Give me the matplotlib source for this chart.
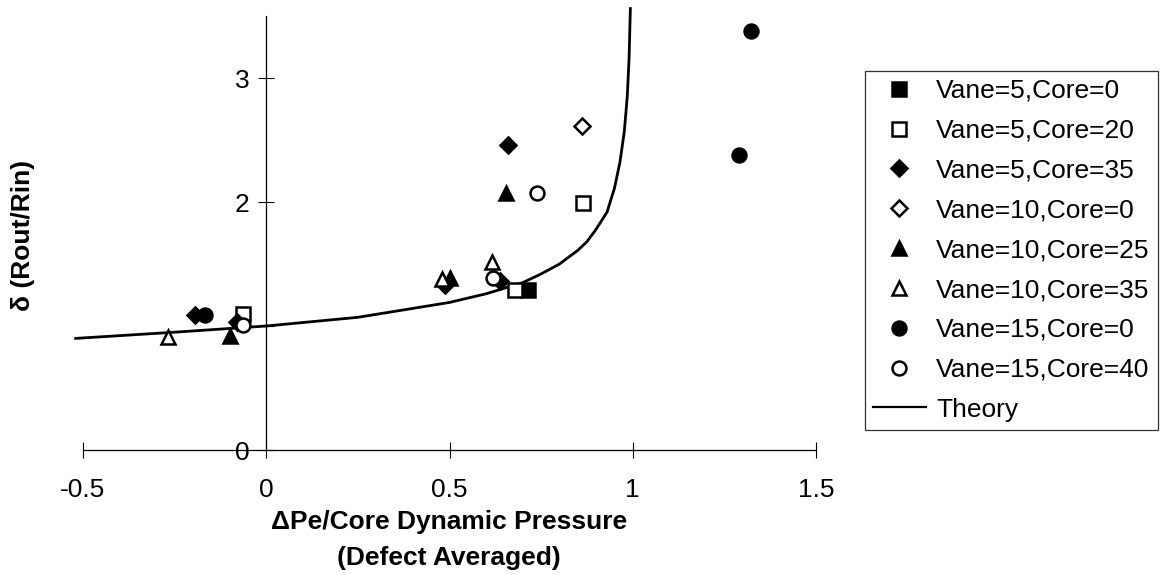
import matplotlib
matplotlib.use("Agg")
import matplotlib.pyplot as plt

plt.rcParams['font.family'] = ['Liberation Sans', 'DejaVu Sans']
plt.rcParams['font.size'] = 19

# measured points, one list pair per (vane, core) setting
v5c0_x = [0.715]
v5c0_y = [1.29]
v5c20_x = [0.679, 0.863, -0.063]
v5c20_y = [1.29, 1.99, 1.10]
v5c35_x = [0.659, 0.488, 0.638, -0.194, -0.079]
v5c35_y = [2.46, 1.33, 1.36, 1.09, 1.03]
v10c0_x = [0.861]
v10c0_y = [2.61]
v10c25_x = [0.653, 0.502, -0.100]
v10c25_y = [2.07, 1.39, 0.92]
v10c35_x = [0.616, 0.479, -0.268]
v10c35_y = [1.52, 1.38, 0.914]
v15c0_x = [1.322, 1.291, -0.166]
v15c0_y = [3.38, 2.38, 1.09]
v15c40_x = [0.739, 0.619, -0.063]
v15c40_y = [2.07, 1.39, 1.01]

# theory curve
theory_x = [-0.52, -0.25, 0.0, 0.25, 0.5, 0.6, 0.7, 0.75, 0.8, 0.85, 0.875,
            0.9, 0.93, 0.95, 0.965, 0.977, 0.985, 0.99, 0.9935]
theory_y = [0.90, 0.95, 1.0, 1.07, 1.19, 1.26, 1.35, 1.42, 1.50, 1.61, 1.68,
            1.78, 1.92, 2.11, 2.32, 2.57, 2.85, 3.16, 3.56]

fig = plt.figure(figsize=(11.61, 5.75), dpi=100)
ax = fig.add_axes([83 / 1161, 125 / 575, 733 / 1161, 434 / 575])

ax.plot(theory_x, theory_y, '-', color='black', lw=2.0, clip_on=False, zorder=2)

ms = 10
mew = 1.8
series = [
    (v5c0_x, v5c0_y, 's', 'black', 'Vane=5,Core=0'),
    (v5c20_x, v5c20_y, 's', 'white', 'Vane=5,Core=20'),
    (v5c35_x, v5c35_y, 'D', 'black', 'Vane=5,Core=35'),
    (v10c0_x, v10c0_y, 'D', 'white', 'Vane=10,Core=0'),
    (v10c25_x, v10c25_y, '^', 'black', 'Vane=10,Core=25'),
    (v10c35_x, v10c35_y, '^', 'white', 'Vane=10,Core=35'),
    (v15c0_x, v15c0_y, 'o', 'black', 'Vane=15,Core=0'),
    (v15c40_x, v15c40_y, 'o', 'white', 'Vane=15,Core=40'),
]
handles = []
for xs, ys, mk, fc, lab in series:
    size = ms * 0.8 if mk == 'D' else ms
    h, = ax.plot(xs, ys, mk, ms=size, mfc=fc, mec='black', mew=mew,
                 linestyle='none', label=lab, zorder=3)
    handles.append(h)
line_h, = ax.plot([], [], '-', color='black', lw=1.6, label='Theory')
handles.append(line_h)

ax.set_xlim(-0.5, 1.5)
ax.set_ylim(0, 3.5)

# axes cross at the origin
for s in ['top', 'right']:
    ax.spines[s].set_visible(False)
ax.spines['left'].set_position(('data', 0))
ax.spines['bottom'].set_position(('data', 0))
ax.spines['left'].set_linewidth(0.9)
ax.spines['bottom'].set_linewidth(0.9)

ax.set_xticks([-0.5, 0, 0.5, 1, 1.5])
ax.set_xticklabels(['-0.5', '0', '0.5', '1', '1.5'])
ax.set_yticks([0, 1, 2, 3])
ax.set_yticklabels(['0', '', '2', '3'])
ax.tick_params(axis='both', direction='inout', length=12, width=0.8, labelsize=19)
ax.tick_params(axis='x', pad=14)
ax.tick_params(axis='y', pad=6)

fig.text(449 / 1161, 1 - 522 / 575, 'ΔPe/Core Dynamic Pressure',
         ha='center', va='center', fontsize=19, fontweight='bold')
fig.text(449 / 1161, 1 - 558 / 575, '(Defect Averaged)',
         ha='center', va='center', fontsize=19, fontweight='bold')
fig.text(23 / 1161, 1 - 235 / 575, 'δ (Rout/Rin)', rotation=90,
         ha='center', va='center', fontsize=19, fontweight='bold')

leg = fig.legend(handles=handles, loc='upper left',
                 bbox_to_anchor=(865 / 1161, 1 - 71 / 575),
                 frameon=True, fancybox=False, edgecolor='black',
                 fontsize=19, handlelength=2.0, handletextpad=0.4,
                 labelspacing=0.6, borderpad=0.3, borderaxespad=0)
leg.get_frame().set_linewidth(0.9)

fig.savefig('out.png', dpi=100)
